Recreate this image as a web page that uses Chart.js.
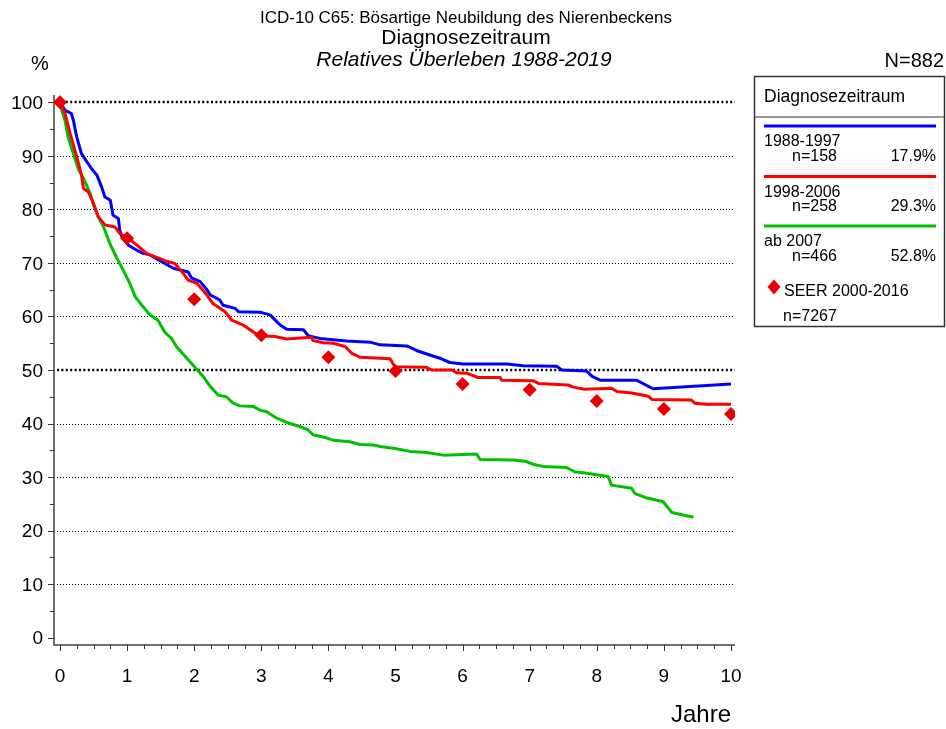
<!DOCTYPE html>
<html><head><meta charset="utf-8">
<script src="https://cdn.jsdelivr.net/npm/chart.js@4"></script>
<style>html,body{margin:0;padding:0;background:#fff}#wrap{width:946px;height:729px;position:relative}</style>
</head><body><div id="wrap"><canvas id="c" width="946" height="729"></canvas></div>
<script>
const titleLines = ['ICD-10 C65: Bösartige Neubildung des Nierenbeckens', 'Diagnosezeitraum', 'Relatives Überleben 1988-2019'];
const yAxisTitle = '%';
const xAxisTitle = 'Jahre';
const totalN = 'N=882';
const legendTitle = 'Diagnosezeitraum';
const seriesNames = ['1988-1997', '1998-2006', 'ab 2007'];
const seriesN = ['n=158', 'n=258', 'n=466'];
const seriesShare = ['17.9%', '29.3%', '52.8%'];
const seerName = 'SEER 2000-2016';
const seerN = 'n=7267';

const xTicks = [0, 1, 2, 3, 4, 5, 6, 7, 8, 9, 10];
const yTicks = [0, 10, 20, 30, 40, 50, 60, 70, 80, 90, 100];

const yearsA = [0, 0.075, 0.17, 0.2, 0.25, 0.32, 0.40, 0.47, 0.55, 0.62, 0.67, 0.75, 0.79, 0.87, 0.89, 0.92, 1.02, 1.14, 1.24, 1.34, 1.49, 1.69, 1.91, 1.96, 2.09, 2.19, 2.24, 2.38, 2.43, 2.61, 2.66, 2.98, 3.13, 3.28, 3.38, 3.63, 3.70, 3.87, 4.27, 4.62, 4.77, 5.17, 5.32, 5.66, 5.81, 6.01, 6.66, 6.90, 7.40, 7.48, 7.85, 7.93, 8.05, 8.59, 8.84, 10.0];
const survA = [100, 98.5, 97.9, 96.6, 93.5, 90.4, 88.9, 87.6, 86.4, 84.2, 82.3, 81.7, 78.9, 78.3, 76.1, 74.9, 73.3, 72.4, 71.8, 71.5, 70.4, 69.0, 68.3, 67.2, 66.5, 65.0, 64.0, 63.1, 62.1, 61.5, 60.9, 60.8, 60.3, 58.4, 57.6, 57.5, 56.4, 55.9, 55.4, 55.2, 54.7, 54.5, 53.6, 52.2, 51.4, 51.1, 51.1, 50.8, 50.7, 50.0, 49.8, 48.8, 48.1, 48.1, 46.5, 47.4];

const yearsB = [0, 0.075, 0.15, 0.25, 0.32, 0.35, 0.42, 0.50, 0.57, 0.67, 0.82, 0.89, 1.02, 1.12, 1.29, 1.34, 1.49, 1.59, 1.71, 1.84, 1.91, 2.04, 2.19, 2.28, 2.46, 2.56, 2.73, 2.88, 2.98, 3.18, 3.38, 3.75, 3.77, 3.92, 4.07, 4.25, 4.35, 4.47, 4.92, 4.99, 5.46, 5.54, 5.84, 5.91, 6.06, 6.23, 6.56, 6.58, 7.05, 7.13, 7.57, 7.65, 7.82, 8.22, 8.30, 8.52, 8.77, 8.82, 9.41, 9.46, 9.64, 10.0];
const survB = [100, 97.9, 94.2, 89.8, 86.4, 83.9, 83.3, 81.1, 78.6, 77.1, 76.7, 75.5, 74.6, 73.6, 71.8, 71.5, 70.8, 70.3, 69.9, 68.0, 66.8, 66.2, 64.0, 62.4, 60.9, 59.3, 58.4, 57.1, 56.3, 56.3, 55.8, 56.1, 55.5, 55.1, 55.0, 54.4, 53.1, 52.4, 52.1, 50.6, 50.5, 50.0, 50.0, 49.5, 49.4, 48.6, 48.6, 48.1, 48.0, 47.5, 47.2, 46.8, 46.4, 46.6, 46.0, 45.7, 45.1, 44.5, 44.4, 43.8, 43.6, 43.6];

const yearsC = [0, 0.025, 0.075, 0.12, 0.2, 0.27, 0.35, 0.45, 0.5, 0.57, 0.65, 0.75, 0.84, 0.94, 1.04, 1.12, 1.22, 1.34, 1.46, 1.56, 1.66, 1.74, 1.89, 1.96, 2.14, 2.24, 2.36, 2.48, 2.58, 2.68, 2.88, 2.98, 3.08, 3.23, 3.38, 3.58, 3.70, 3.77, 3.92, 4.07, 4.32, 4.47, 4.67, 4.77, 4.97, 5.22, 5.46, 5.71, 6.21, 6.26, 6.76, 6.95, 7.05, 7.20, 7.55, 7.67, 7.85, 8.17, 8.22, 8.52, 8.57, 8.72, 8.99, 9.04, 9.12, 9.44];
const survC = [100, 98.5, 96.6, 93.5, 90.4, 87.6, 85.8, 83.0, 80.8, 78.6, 76.7, 73.4, 71.1, 68.7, 66.2, 63.7, 62.1, 60.3, 59.3, 57.1, 55.9, 54.3, 52.2, 51.2, 48.7, 46.9, 45.3, 45.0, 43.8, 43.3, 43.2, 42.5, 42.2, 41.0, 40.2, 39.4, 38.8, 37.9, 37.5, 36.9, 36.6, 36.1, 36.0, 35.7, 35.4, 34.8, 34.6, 34.1, 34.3, 33.3, 33.2, 32.9, 32.4, 32.0, 31.8, 31.0, 30.7, 30.1, 28.5, 27.9, 26.9, 26.2, 25.4, 24.6, 23.4, 22.5];

const seerYears = [0, 1, 2, 3, 4, 5, 6, 7, 8, 9, 10];
const seerSurv = [100, 74.6, 63.2, 56.5, 52.4, 49.8, 47.4, 46.3, 44.2, 42.7, 41.8];

const colors = ['#0000ff', '#ff0000', '#00c000'];
const seerColor = '#e60000';
const FONT = "'Liberation Sans', Arial, sans-serif";

function pts(xs, ys) { return xs.map((x, i) => ({ x: x, y: ys[i] })); }

const framePlugin = {
  id: 'frame',
  beforeDatasetsDraw(chart) {
    const ctx = chart.ctx, ca = chart.chartArea;
    const xs = chart.scales.x, ys = chart.scales.y;
    ctx.save();
    yTicks.forEach(v => {
      if (v === 0) return;
      const y = Math.round(ys.getPixelForValue(v));
      const thick = (v === 100 || v === 50);
      ctx.beginPath();
      ctx.strokeStyle = '#000';
      if (thick) { ctx.lineWidth = 2.5; ctx.setLineDash([2, 2.4]); ctx.moveTo(ca.left + 3, y); ctx.lineTo(ca.right, y); }
      else { ctx.lineWidth = 1; ctx.setLineDash([1, 2]); ctx.moveTo(ca.left + 3, y + 0.5); ctx.lineTo(ca.right, y + 0.5); }
      ctx.stroke();
    });
    ctx.setLineDash([]);
    ctx.strokeStyle = '#444';
    ctx.lineWidth = 1.5;
    ctx.beginPath();
    ctx.moveTo(ca.left, ca.top);
    ctx.lineTo(ca.left, ca.bottom);
    ctx.lineTo(ca.right, ca.bottom);
    ctx.stroke();
    ctx.lineWidth = 1;
    ctx.strokeStyle = '#333';
    for (let v = 0; v <= 100; v += 5) {
      const y = Math.round(ys.getPixelForValue(v)) + 0.5;
      const len = (v % 10 === 0) ? 6 : 4;
      ctx.beginPath(); ctx.moveTo(ca.left - len, y); ctx.lineTo(ca.left, y); ctx.stroke();
    }
    for (let q = 0; q <= 40; q++) {
      const v = q / 4;
      const x = Math.round(xs.getPixelForValue(v)) + 0.5;
      const len = (q % 4 === 0) ? 6 : 4;
      ctx.beginPath(); ctx.moveTo(x, ca.bottom); ctx.lineTo(x, ca.bottom + len); ctx.stroke();
    }
    ctx.restore();
  },
  afterDraw(chart) {
    const ctx = chart.ctx;
    ctx.save();
    ctx.fillStyle = '#000';
    ctx.textBaseline = 'alphabetic';
    ctx.textAlign = 'center';
    ctx.font = '17px ' + FONT;
    ctx.fillText(titleLines[0], 466, 23);
    ctx.font = '21px ' + FONT;
    ctx.fillText(titleLines[1], 466, 44);
    ctx.font = 'italic 21px ' + FONT;
    ctx.fillText(titleLines[2], 464, 66);
    ctx.font = '20px ' + FONT;
    ctx.textAlign = 'left';
    ctx.fillText(yAxisTitle, 31, 70);
    ctx.textAlign = 'right';
    ctx.fillText(totalN, 944, 67);
    ctx.font = '24px ' + FONT;
    ctx.fillText(xAxisTitle, 731, 722);

    ctx.lineWidth = 1.5;
    ctx.strokeStyle = '#333';
    ctx.strokeRect(754.5, 76.5, 190, 250);
    ctx.lineWidth = 1;
    ctx.beginPath(); ctx.moveTo(754.5, 117); ctx.lineTo(944.5, 117); ctx.stroke();
    ctx.textAlign = 'left';
    ctx.font = '17.5px ' + FONT;
    ctx.fillText(legendTitle, 764, 102);
    const lineYs = [126, 176.5, 226];
    ctx.font = '16px ' + FONT;
    for (let i = 0; i < 3; i++) {
      const ly = lineYs[i];
      ctx.strokeStyle = colors[i];
      ctx.lineWidth = 3;
      ctx.beginPath(); ctx.moveTo(764, ly); ctx.lineTo(936, ly); ctx.stroke();
      ctx.textAlign = 'left';
      ctx.fillText(seriesNames[i], 764, ly + 20);
      ctx.fillText(seriesN[i], 792, ly + 34.5);
      ctx.textAlign = 'right';
      ctx.fillText(seriesShare[i], 936, ly + 34.5);
    }
    ctx.fillStyle = seerColor;
    ctx.beginPath();
    ctx.moveTo(774, 279.5); ctx.lineTo(780.5, 287); ctx.lineTo(774, 294.5); ctx.lineTo(767.5, 287); ctx.closePath();
    ctx.fill();
    ctx.fillStyle = '#000';
    ctx.textAlign = 'left';
    ctx.fillText(seerName, 784, 296);
    ctx.fillText(seerN, 783, 321);
    ctx.restore();
  }
};

const lineDs = (i, xs, ys, order) => ({
  label: seriesNames[i],
  data: pts(xs, ys),
  borderColor: colors[i],
  backgroundColor: colors[i],
  borderWidth: 3,
  pointRadius: 0,
  tension: 0,
  fill: false,
  order: order
});

new Chart(document.getElementById('c'), {
  type: 'line',
  data: {
    datasets: [
      {
        label: seerName,
        data: pts(seerYears, seerSurv),
        showLine: false,
        pointStyle: 'rectRot',
        pointRadius: 7,
        pointBackgroundColor: seerColor,
        pointBorderColor: seerColor,
        pointBorderWidth: 0,
        order: 0
      },
      lineDs(1, yearsB, survB, 1),
      lineDs(0, yearsA, survA, 2),
      lineDs(2, yearsC, survC, 3)
    ]
  },
  options: {
    responsive: false,
    animation: false,
    devicePixelRatio: 1,
    layout: { padding: { top: 95, right: 211, left: 0, bottom: 0 } },
    plugins: { legend: { display: false }, tooltip: { enabled: false }, title: { display: false } },
    elements: { line: { borderJoinStyle: 'round', borderCapStyle: 'butt' } },
    scales: {
      x: {
        type: 'linear',
        min: -0.0894,
        max: 10.06,
        grid: { display: false, drawTicks: false },
        border: { display: false },
        afterBuildTicks: s => { s.ticks = xTicks.map(v => ({ value: v })); },
        afterFit: s => { s.height = 84; },
        ticks: { color: '#000', font: { family: FONT, size: 19 }, padding: 20, maxRotation: 0, autoSkip: false, callback: v => String(v) }
      },
      y: {
        type: 'linear',
        min: -1.36,
        max: 101.36,
        grid: { display: false, drawTicks: false },
        border: { display: false },
        afterBuildTicks: s => { s.ticks = yTicks.map(v => ({ value: v })); },
        afterFit: s => { s.width = 54; },
        ticks: { color: '#000', font: { family: FONT, size: 19 }, padding: 11, labelOffset: 1.5, autoSkip: false, callback: v => String(v) }
      }
    }
  },
  plugins: [framePlugin]
});
</script></body></html>
